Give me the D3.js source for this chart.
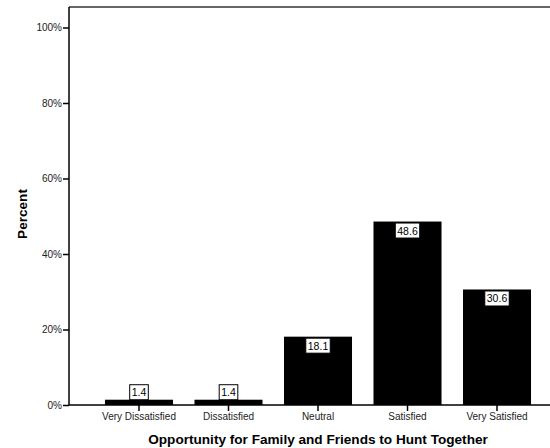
<!DOCTYPE html>
<html><head><meta charset="utf-8">
<script src="https://cdn.jsdelivr.net/npm/d3@7"></script>
<style>body{margin:0;background:#fff}svg{display:block;font-family:"Liberation Sans",Arial,sans-serif}</style>
</head><body><svg id="c" width="550" height="448"></svg>
<script>
const categories = ["Very Dissatisfied","Dissatisfied","Neutral","Satisfied","Very Satisfied"];
const values = [1.4, 1.4, 18.1, 48.6, 30.6];
const yTicks = [0,20,40,60,80,100];
const xTitle = "Opportunity for Family and Friends to Hunt Together";
const yTitle = "Percent";

(function(){
const svg = d3.select("#c");
const mL = 69, mR = 550, mT = 7, mB = 405;
const x = d3.scaleBand().domain(categories).range([94.25, 541.75]).paddingInner(0.24).paddingOuter(0.12);
const y = d3.scaleLinear().domain([0,100]).range([mB, 27.5]);

// frame
svg.append("line").attr("x1",mL).attr("x2",mR).attr("y1",mT).attr("y2",mT).attr("stroke","#333").attr("stroke-width",1.5);

// bars
svg.selectAll("rect.bar").data(values).join("rect").attr("class","bar")
  .attr("x",(d,i)=>x(categories[i])).attr("width",x.bandwidth())
  .attr("y",d=>y(d)).attr("height",d=>mB-y(d)).attr("fill","#000");

// axes
const ya = svg.append("g").attr("transform",`translate(${mL},0)`)
  .call(d3.axisLeft(y).tickValues(yTicks).tickFormat(d=>d+"%").tickSize(6).tickPadding(1));
ya.select(".domain").remove();
ya.selectAll("text").attr("font-size",10).attr("font-family","Liberation Sans, Arial, sans-serif").attr("fill","#222");
ya.selectAll("line").attr("stroke","#000").attr("stroke-width",1.5);
svg.append("line").attr("x1",mL).attr("x2",mL).attr("y1",mT).attr("y2",mB).attr("stroke","#000").attr("stroke-width",1.5);

const xa = svg.append("g").attr("transform",`translate(0,${mB})`)
  .call(d3.axisBottom(x).tickSize(6).tickPadding(2));
xa.select(".domain").remove();
xa.selectAll("text").attr("font-size",10).attr("font-family","Liberation Sans, Arial, sans-serif").attr("fill","#222");
xa.selectAll("line").attr("stroke","#000").attr("stroke-width",1.5);
svg.append("line").attr("x1",mL).attr("x2",mR).attr("y1",mB).attr("y2",mB).attr("stroke","#000").attr("stroke-width",1.5);

// value labels
const lab = svg.selectAll("g.lab").data(values).join("g").attr("class","lab");
lab.each(function(d,i){
  const g = d3.select(this);
  const cx = x(categories[i]) + x.bandwidth()/2;
  const txt = d.toFixed(1);
  const t = g.append("text").attr("x",cx).attr("text-anchor","middle").attr("font-size",10.5).text(txt);
  const w = t.node().getComputedTextLength() + 4, h = 15;
  const inside = (mB - y(d)) > 20;
  const by = inside ? y(d) + 1.5 : y(d) - h;
  g.insert("rect","text").attr("x",cx - w/2).attr("y",by).attr("width",w).attr("height",h)
    .attr("fill","#fff").attr("stroke","#000").attr("stroke-width",1);
  t.attr("y",by + 11.5);
});

// titles
svg.append("text").attr("x",318).attr("y",444).attr("text-anchor","middle").attr("font-weight","bold").attr("font-size",13.6).text(xTitle);
svg.append("text").attr("transform","translate(27,214) rotate(-90)").attr("text-anchor","middle").attr("font-weight","bold").attr("font-size",13.6).text(yTitle);
})();
</script></body></html>
